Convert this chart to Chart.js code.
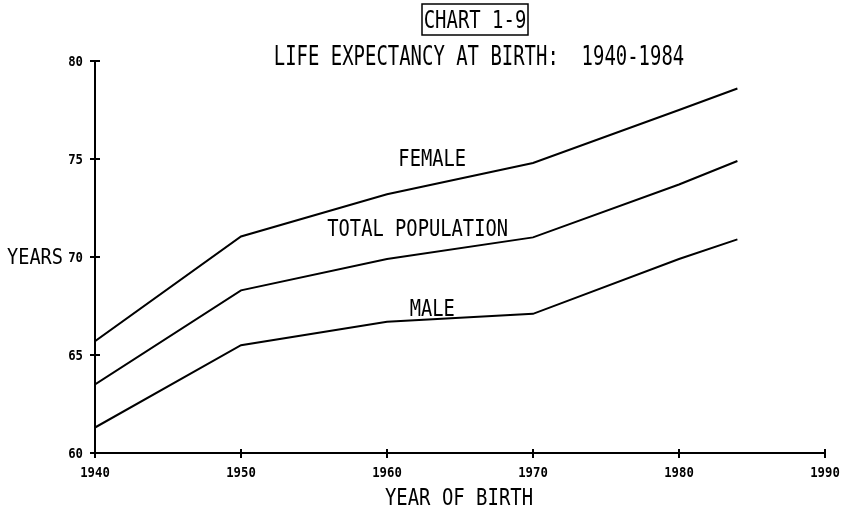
<!DOCTYPE html>
<html>
<head>
<meta charset="utf-8">
<script src="https://cdn.jsdelivr.net/npm/chart.js@4/dist/chart.umd.min.js"></script>
<style>
  html, body { margin: 0; padding: 0; background: #fff; }
</style>
</head>
<body>
<canvas id="chart-life" width="847" height="507"></canvas>
<script>
// data
const years = [1940, 1950, 1960, 1970, 1980, 1984];
const female = [65.7, 71.05, 73.2, 74.8, 77.5, 78.6];
const total = [63.5, 68.3, 69.9, 71.0, 73.7, 74.9];
const male = [61.3, 65.5, 66.7, 67.1, 69.9, 70.9];
const seriesNames = ['FEMALE', 'TOTAL POPULATION', 'MALE'];
const xTicks = [1940, 1950, 1960, 1970, 1980, 1990];
const yTicks = [60, 65, 70, 75, 80];

// plotter style text: monospace, squeezed horizontally
function plotText(ctx, str, x, cy, cap, advance, align, bold) {
  const size = cap / 0.729;
  ctx.save();
  ctx.font = (bold ? 'bold ' : '') + size + 'px "DejaVu Sans Mono", "Liberation Mono", monospace';
  const natural = ctx.measureText('M').width;
  const w = str.length * advance;
  let left = x;
  if (align === 'center') left = x - w / 2;
  if (align === 'right') left = x - w;
  ctx.translate(left, cy + cap / 2);
  ctx.scale(advance / natural, 1);
  ctx.fillStyle = '#000';
  ctx.textAlign = 'left';
  ctx.textBaseline = 'alphabetic';
  ctx.fillText(str, 0, 0);
  ctx.restore();
}

function line(ctx, x1, y1, x2, y2) {
  ctx.beginPath();
  ctx.moveTo(x1, y1);
  ctx.lineTo(x2, y2);
  ctx.stroke();
}

const plotterPlugin = {
  id: 'plotter',
  afterDraw(chart) {
    const ctx = chart.ctx;
    const xs = chart.scales.x, ys = chart.scales.y;
    const x0 = xs.getPixelForValue(xTicks[0]);
    const x1 = xs.getPixelForValue(xTicks[xTicks.length - 1]);
    const yb = ys.getPixelForValue(yTicks[0]);
    const yt = ys.getPixelForValue(yTicks[yTicks.length - 1]);

    ctx.save();
    ctx.strokeStyle = '#000';
    ctx.lineWidth = 2;

    // axes
    ctx.beginPath();
    ctx.moveTo(x0, yt);
    ctx.lineTo(x0, yb);
    ctx.lineTo(x1, yb);
    ctx.stroke();

    xTicks.forEach(t => {
      const px = xs.getPixelForValue(t);
      line(ctx, px, yb - 4, px, yb + 5);
      plotText(ctx, String(t), px, yb + 19, 10, 7.4, 'center', true);
    });
    yTicks.forEach(v => {
      const py = ys.getPixelForValue(v);
      line(ctx, x0 - 5, py, x0 + 5, py);
      plotText(ctx, String(v), x0 - 12, py, 10, 7.4, 'right', true);
    });

    // axis titles
    plotText(ctx, 'YEARS', 63, ys.getPixelForValue(70) - 1, 15, 11.2, 'right', false);
    plotText(ctx, 'YEAR OF BIRTH', (x0 + x1) / 2 - 1, yb + 43, 17, 11.4, 'center', false);

    // series labels, placed in data units
    const labelPos = [[1963.1, 75.05], [1962.1, 71.48], [1963.1, 67.4]];
    seriesNames.forEach((name, i) => {
      plotText(ctx, name, xs.getPixelForValue(labelPos[i][0]), ys.getPixelForValue(labelPos[i][1]), 16.5, 11.3, 'center', false);
    });

    // titles
    ctx.lineWidth = 1.5;
    ctx.strokeRect(422, 4, 106, 31);
    plotText(ctx, 'CHART 1-9', 475, 19, 18, 11.4, 'center', false);
    plotText(ctx, 'LIFE EXPECTANCY AT BIRTH:  1940-1984', 479, 55.5, 19, 11.4, 'center', false);
    ctx.restore();
  }
};

function makeSet(values) {
  return {
    data: years.map((y, i) => ({ x: y, y: values[i] })),
    borderColor: '#000',
    borderWidth: 2,
    pointRadius: 0,
    tension: 0,
    fill: false
  };
}

document.addEventListener('DOMContentLoaded', () => {
  const ctx = document.getElementById('chart-life').getContext('2d');
  new Chart(ctx, {
    type: 'line',
    data: { datasets: [makeSet(female), makeSet(total), makeSet(male)] },
    options: {
      responsive: false,
      animation: false,
      devicePixelRatio: 1,
      layout: { padding: { left: 95, right: 22, top: 61, bottom: 54 } },
      scales: {
        x: { type: 'linear', min: 1940, max: 1990, display: false },
        y: { min: 60, max: 80, display: false }
      },
      plugins: {
        legend: { display: false },
        tooltip: { enabled: false }
      }
    },
    plugins: [plotterPlugin]
  });
});
</script>
</body>
</html>
